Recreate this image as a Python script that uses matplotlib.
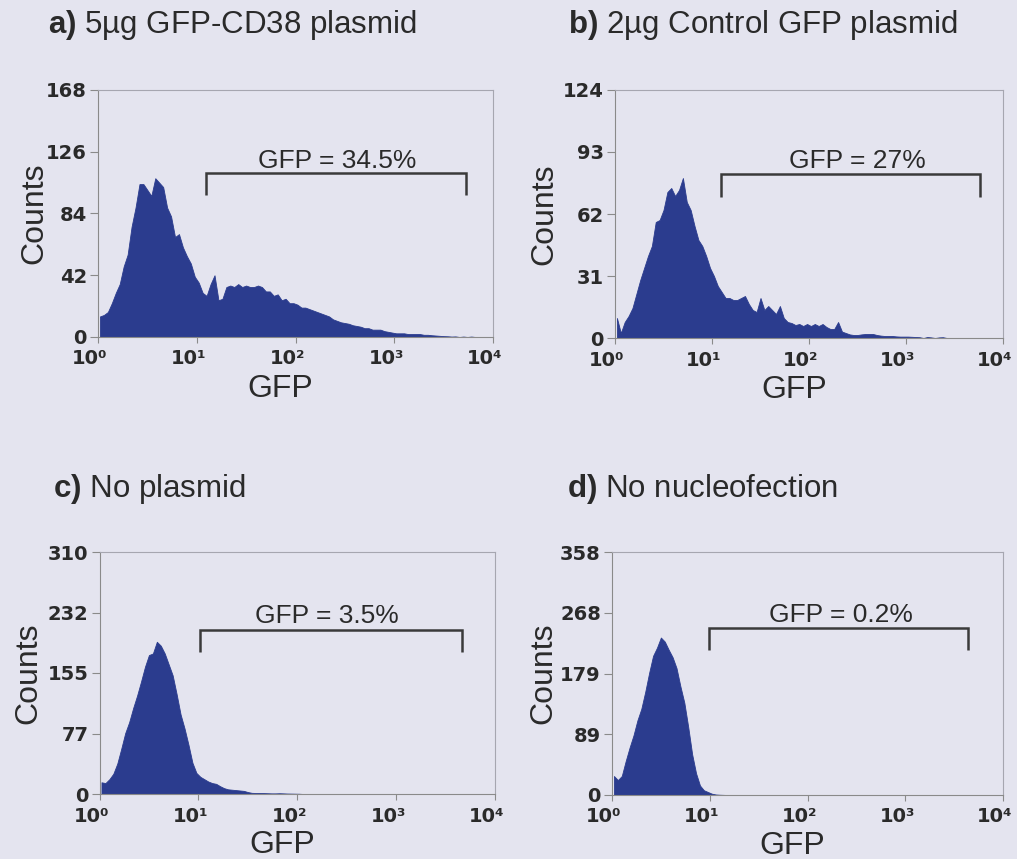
import numpy as np
import matplotlib
matplotlib.use('Agg')
import matplotlib.pyplot as plt
import matplotlib.transforms as mtransforms

plt.rcParams['mathtext.fontset'] = 'custom'
plt.rcParams['mathtext.rm'] = 'Liberation Sans'
plt.rcParams['mathtext.bf'] = 'Liberation Sans:bold'

# ---------------- data ----------------
# GFP channel grid: 25 channels per decade, 10^0 .. 10^4
channel_edges = np.logspace(0, 4, 101)
channel_centers = np.sqrt(channel_edges[:-1] * channel_edges[1:])

counts_a = [14, 15, 17, 23, 30, 36, 48, 56, 75, 88,
            104, 104, 100, 96, 108, 105, 102, 88, 82, 68,
            70, 61, 55, 50, 41, 37, 30, 28, 36, 42,
            25, 26, 34, 35, 34, 36, 34, 35, 34, 34,
            35, 34, 31, 31, 28, 29, 25, 26, 23, 23,
            22, 20, 20, 19, 18, 17, 16, 15, 14, 12,
            11, 10, 9.5, 9, 8, 7.5, 7, 6, 6, 5,
            5, 5, 4, 3.5, 3, 2.5, 2.5, 2.5, 2, 2,
            2, 2, 1.5, 1.5, 1.2, 1, 0.8, 0.6, 0.5, 0.3,
            0.4, 0, 0.3, 0, 0.3, 0, 0, 0, 0, 0]

counts_b = [10, 2.5, 8, 11, 15, 22, 29, 35, 41, 46,
            58, 59, 64, 73, 75, 71, 74, 80, 68, 64,
            56, 49, 46, 41, 35, 31, 26, 23, 20, 20,
            19, 19, 20, 21, 17, 14, 13, 20, 14, 16,
            14, 12, 16, 10, 8, 7.5, 6.5, 7, 6, 7,
            6, 7, 6, 7, 5.5, 4.5, 4.5, 8, 3.2, 2.5,
            1.8, 1.5, 1.5, 1.8, 2, 2, 2, 1.5, 1.2, 1,
            1, 1, 0.8, 0.7, 0.7, 0.7, 0.6, 0.5, 0.4, 0,
            0.5, 0.3, 0, 0.3, 0.4, 0, 0, 0, 0, 0,
            0, 0, 0, 0, 0, 0, 0, 0, 0, 0]

counts_c = [15, 14, 19, 26, 39, 58, 78, 92, 110, 126,
            144, 163, 178, 180, 195, 190, 180, 166, 152, 128,
            102, 84, 63, 40, 27, 22, 19, 16, 14, 13,
            10, 7.5, 6, 5.5, 5, 4.5, 4, 2.5, 1.5, 1.3,
            1.3, 1.2, 1, 0.8, 0.8, 1, 0.8, 0.6, 0.5, 0.4,
            0.3, 0, 0, 0, 0, 0, 0, 0, 0, 0,
            0, 0, 0, 0, 0, 0, 0, 0, 0, 0,
            0, 0, 0, 0, 0, 0, 0, 0, 0, 0,
            0, 0, 0, 0, 0, 0, 0, 0, 0, 0,
            0, 0, 0, 0, 0, 0, 0, 0, 0, 0]

counts_d = [28, 22, 28, 50, 70, 88, 110, 127, 152, 180,
            205, 217, 232, 226, 214, 203, 187, 160, 136, 100,
            60, 32, 14, 7, 4.5, 2, 0.8, 0.4, 0.2, 0,
            0, 0, 0, 0, 0, 0, 0, 0, 0, 0,
            0, 0, 0, 0, 0, 0, 0, 0, 0, 0,
            0, 0, 0, 0, 0, 0, 0, 0, 0, 0,
            0, 0, 0, 0, 0, 0, 0, 0, 0, 0,
            0, 0, 0, 0, 0, 0, 0, 0, 0, 0,
            0, 0, 0, 0, 0, 0, 0, 0, 0, 0,
            0, 0, 0, 0, 0, 0, 0, 0, 0, 0]

panel_letters = ['a)', 'b)', 'c)', 'd)']
panel_titles = ['5µg GFP-CD38 plasmid', '2µg Control GFP plasmid',
                'No plasmid', 'No nucleofection']
y_max = [168, 124, 310, 358]
y_tick_labels = [['0', '42', '84', '126', '168'],
                 ['0', '31', '62', '93', '124'],
                 ['0', '77', '155', '232', '310'],
                 ['0', '89', '179', '268', '358']]
x_ticks = [1, 10, 100, 1000, 10000]
x_tick_labels = ['10\u2070', '10\u00b9', '10\u00b2', '10\u00b3', '10\u2074']

gate_labels = ['GFP = 34.5%', 'GFP = 27%', 'GFP = 3.5%', 'GFP = 0.2%']
gate_lo = [12.3, 12.4, 10.5, 9.8]
gate_hi = [5370, 5770, 4650, 4370]
gate_top = [111.5, 82, 210, 246]
gate_bottom = [96.6, 70.5, 182, 214]
gate_text_x = [263, 313, 199, 220]
gate_text_y = [115, 85, 219, 255]

all_counts = [counts_a, counts_b, counts_c, counts_d]

# ---------------- style / layout ----------------
BG = '#e4e4ef'
FILL = '#2b3c8e'
TXT = '#2a2a2a'
SPINE = '#8a8a8a'
GATE = '#3a3a3a'

W, H = 1017, 859
# axes rects in pixels: left, right, top, bottom
rects_px = [(98, 493, 90, 337), (615, 1003, 90, 338),
            (99.5, 495, 552, 794), (612, 1003, 552, 795)]
title_pos_px = [(48, 33), (568, 33), (53, 497), (567, 497)]
ylabel_x = [-0.124, -0.144, -0.143, -0.138]

fig = plt.figure(figsize=(W / 100, H / 100), dpi=100, facecolor=BG)

for k in range(4):
    l, r, t, b = rects_px[k]
    ax = fig.add_axes([l / W, 1 - b / H, (r - l) / W, (b - t) / H])
    ax.set_facecolor(BG)
    ax.fill_between(channel_centers, all_counts[k], 0, color=FILL, lw=0.6,
                    edgecolor=FILL)
    ax.set_xscale('log')
    ax.set_xlim(1, 1e4)
    ax.set_ylim(0, y_max[k])
    ax.minorticks_off()

    yt = [y_max[k] * i / 4 for i in range(5)]
    ax.set_yticks(yt, y_tick_labels[k])
    ax.set_xticks(x_ticks, x_tick_labels)
    ax.tick_params(axis='y', direction='out', length=6, width=0.8,
                   color=SPINE, pad=2, labelsize=14, labelcolor=TXT)
    ax.tick_params(axis='x', direction='out', length=4, width=0.8,
                   color=SPINE, pad=5, labelsize=14, labelcolor=TXT)
    for lab in ax.get_yticklabels() + ax.get_xticklabels():
        lab.set_fontfamily('DejaVu Sans')
        lab.set_fontweight('bold')
    off = mtransforms.ScaledTranslation(-8 / 100, 0, fig.dpi_scale_trans)
    for lab in ax.get_xticklabels():
        lab.set_transform(lab.get_transform() + off)

    for s in ax.spines.values():
        s.set_color(SPINE)
        s.set_linewidth(0.8)
    ax.spines['top'].set_color('#a6a6b0')
    ax.spines['right'].set_color('#a6a6b0')

    ax.set_ylabel('Counts', fontsize=23, family='Liberation Sans', color=TXT)
    ax.yaxis.set_label_coords(ylabel_x[k], 0.5)
    ax.set_xlabel('GFP', fontsize=23, family='Liberation Sans', color=TXT)
    ax.xaxis.set_label_coords(0.462, -0.243)
    ax.xaxis.label.set_verticalalignment('baseline')

    # gate bracket
    ax.plot([gate_lo[k], gate_lo[k], gate_hi[k], gate_hi[k]],
            [gate_bottom[k], gate_top[k], gate_top[k], gate_bottom[k]],
            color=GATE, lw=1.8, solid_joinstyle='miter', solid_capstyle='butt')
    ax.text(gate_text_x[k], gate_text_y[k], gate_labels[k], ha='center',
            va='baseline', fontsize=19, family='Liberation Sans', color=TXT)

    tx, ty = title_pos_px[k]
    fig.text(tx / W, 1 - ty / H, r'$\mathbf{' + panel_letters[k] + '}$ ' + panel_titles[k],
             fontsize=22.5, family='Liberation Sans', color=TXT, va='baseline', ha='left')

fig.savefig('out.png', dpi=100, facecolor=BG)
